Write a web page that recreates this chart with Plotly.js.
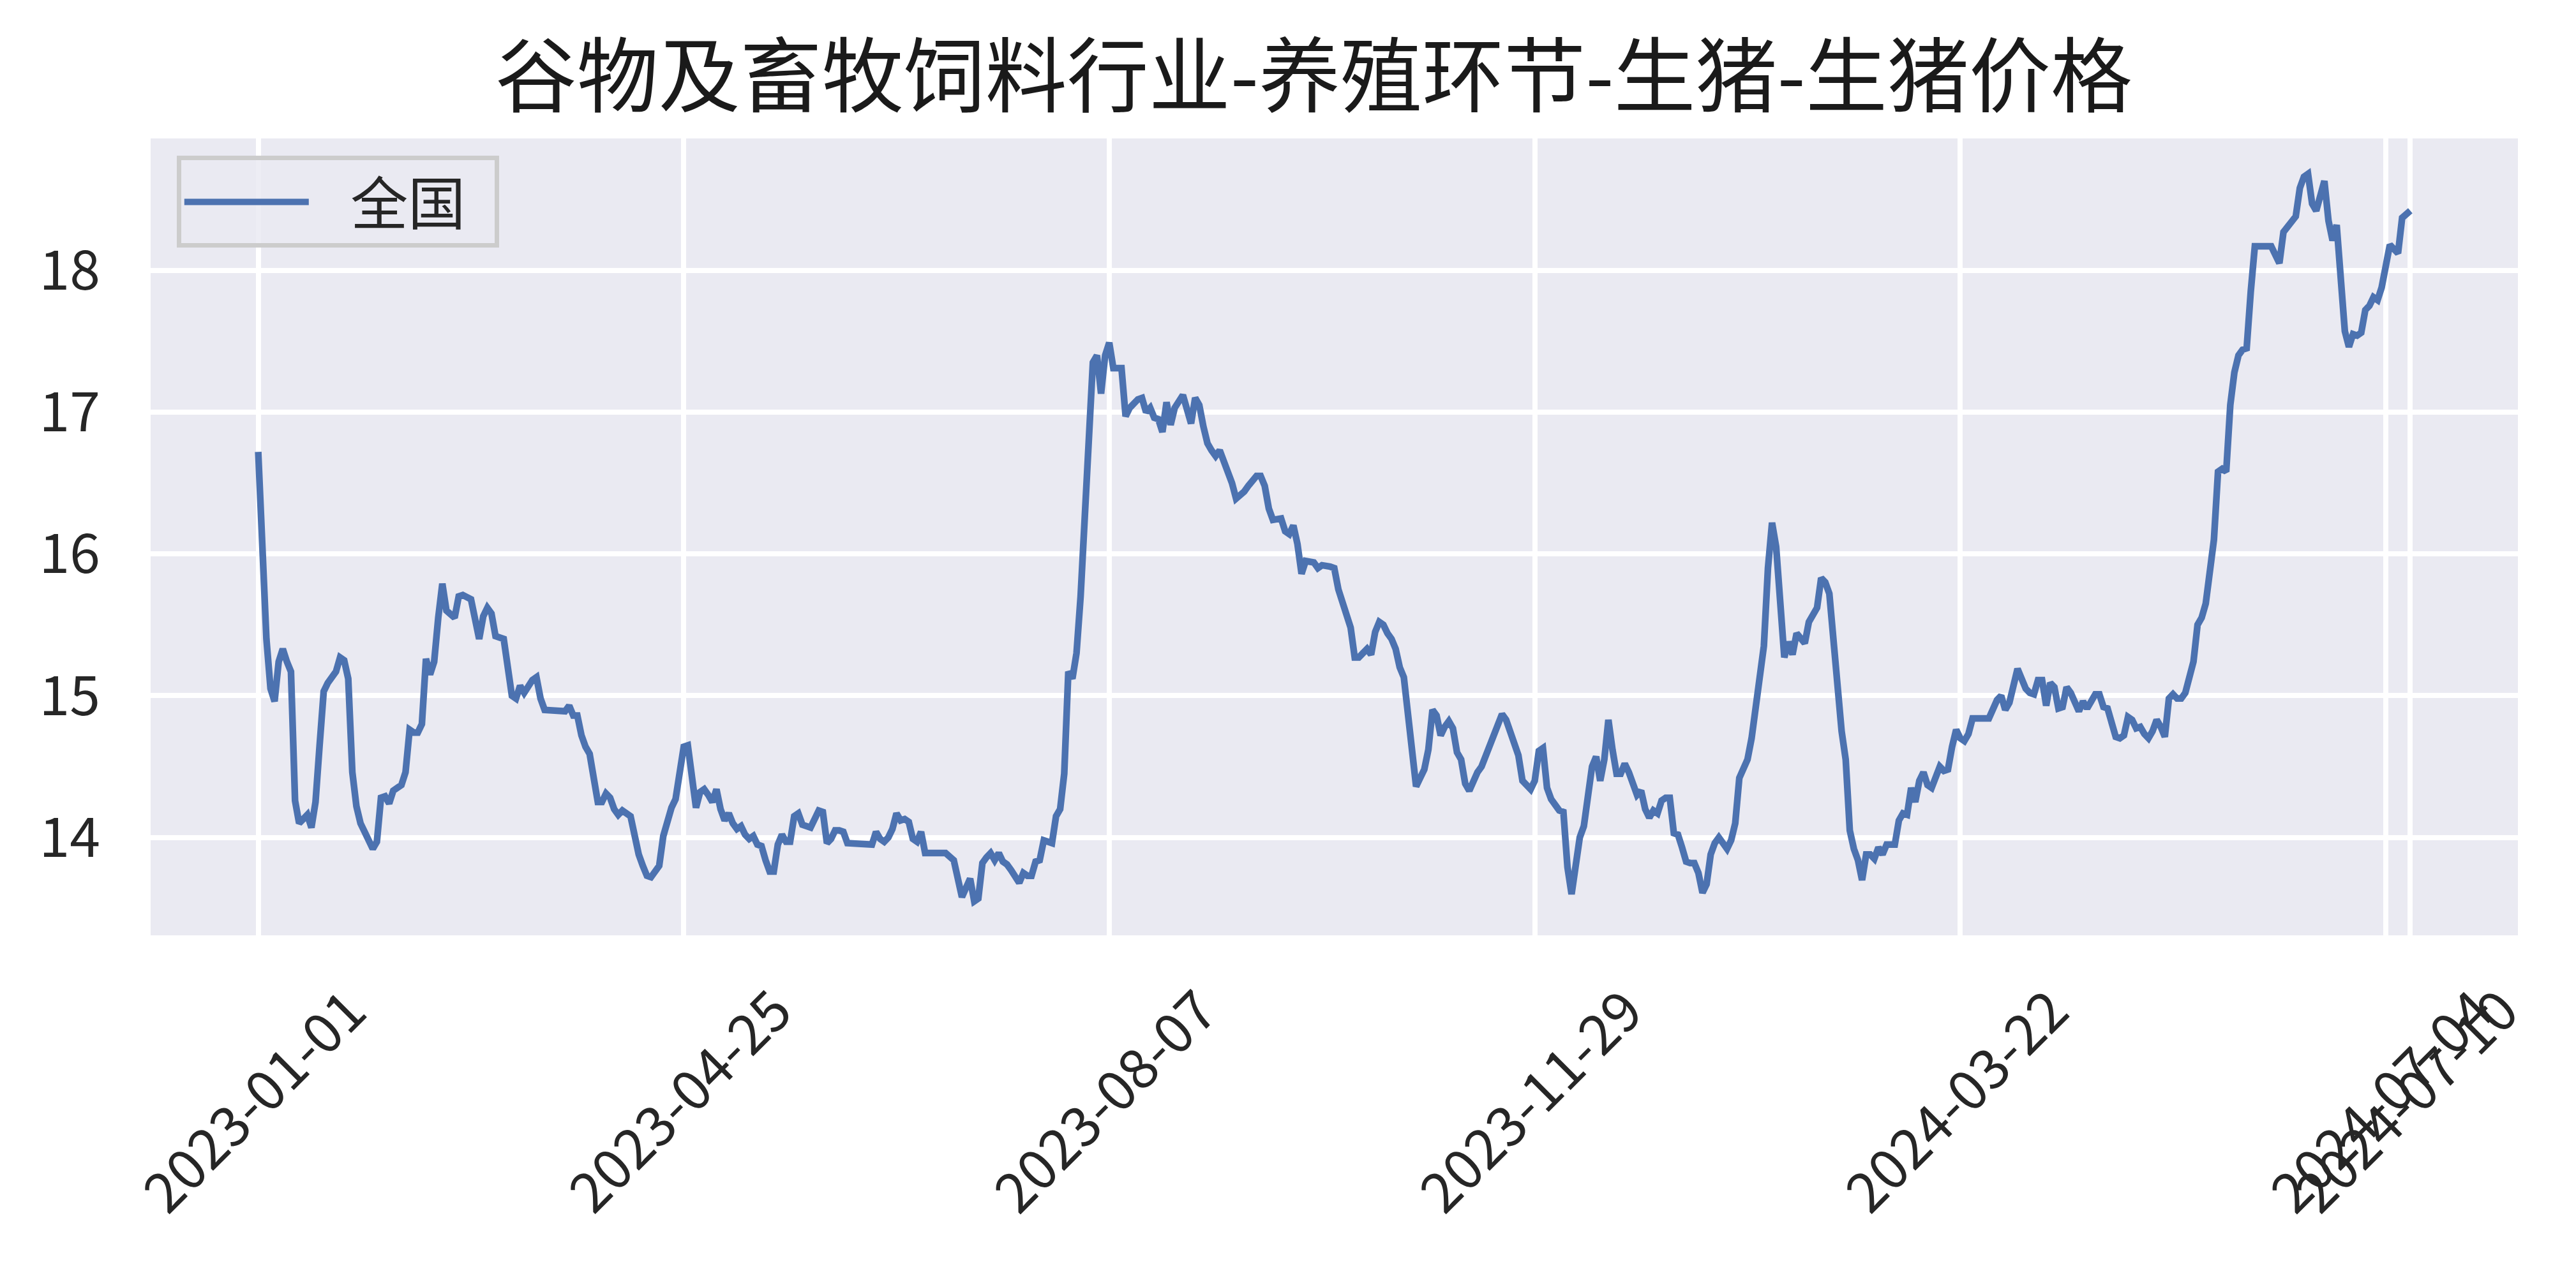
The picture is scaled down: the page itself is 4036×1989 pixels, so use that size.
<!DOCTYPE html>
<html>
<head>
<meta charset="utf-8">
<script src="https://cdn.plot.ly/plotly-3.0.1.min.js"></script>
<style>
  html, body { margin: 0; padding: 0; background: #fff; }
  #chart { width: 4036px; height: 1989px; }
</style>
</head>
<body>
<div id="chart"></div>
<script>
// observation number (trading-day sequence) and national hog price
var obsIdx = [
  0, 1, 2, 3, 4, 5, 6, 7, 8, 9, 10, 11, 12, 13, 14, 15, 16, 17, 19, 20,
  21, 22, 23, 24, 25, 26, 27, 28, 29, 30, 31, 32, 33, 35, 36, 37, 38, 39, 40, 41,
  42, 43, 44, 45, 46, 47, 48, 49, 50, 52, 53, 54, 55, 56, 57, 58, 60, 61, 62, 63,
  64, 65, 67, 68, 69, 70, 75, 76, 77, 78, 79, 80, 81, 82, 83, 84, 85, 86, 87, 88,
  89, 91, 92, 93, 94, 95, 96, 97, 98, 99, 100, 101, 102, 103, 104, 105, 106, 107, 108, 109,
  110, 111, 112, 113, 114, 115, 116, 117, 118, 119, 120, 121, 122, 123, 124, 125, 126, 127, 128, 129,
  130, 131, 132, 133, 135, 136, 137, 138, 139, 140, 141, 142, 143, 144, 148, 150, 151, 152, 153, 154,
  155, 156, 157, 158, 159, 160, 161, 162, 163, 168, 170, 171, 172, 174, 175, 176, 177, 178, 179, 180,
  181, 182, 183, 184, 185, 186, 187, 188, 189, 190, 191, 192, 193, 194, 195, 196, 197, 198, 199, 200,
  201, 202, 203, 204, 205, 206, 207, 208, 209, 210, 211, 212, 213, 214, 215, 216, 217, 218, 219, 220,
  221, 222, 223, 224, 225, 226, 227, 228, 229, 230, 231, 232, 233, 234, 235, 236, 237, 238, 239, 240,
  241, 242, 243, 244, 245, 246, 247, 248, 250, 251, 252, 253, 254, 255, 256, 257, 258, 259, 260, 262,
  263, 264, 265, 266, 267, 268, 269, 270, 271, 272, 273, 274, 275, 276, 277, 278, 279, 280, 281, 282,
  283, 284, 285, 286, 287, 288, 289, 290, 291, 292, 293, 294, 295, 296, 297, 298, 299, 300, 301, 302,
  303, 304, 305, 306, 307, 308, 309, 310, 311, 312, 313, 314, 315, 316, 317, 318, 319, 320, 321, 322,
  323, 324, 325, 326, 327, 328, 329, 330, 331, 332, 333, 334, 335, 336, 337, 338, 339, 340, 341, 342,
  343, 344, 345, 346, 347, 348, 349, 350, 351, 352, 353, 354, 355, 356, 357, 358, 359, 360, 361, 362,
  363, 364, 365, 366, 367, 368, 369, 370, 371, 372, 373, 374, 375, 376, 377, 378, 379, 380, 381, 382,
  383, 384, 385, 386, 387, 388, 389, 390, 391, 392, 393, 394, 395, 396, 397, 398, 400, 401, 402, 403,
  404, 405, 406, 407, 408, 409, 410, 411, 412, 413, 414, 415, 416, 417, 418, 419, 423, 424, 425, 426,
  427, 428, 429, 430, 431, 432, 433, 434, 435, 436, 437, 438, 439, 440, 441, 442, 443, 444, 445, 446,
  447, 448, 449, 450, 451, 452, 453, 454, 455, 456, 457, 458, 459, 460, 461, 462, 463, 464, 465, 466,
  467, 468, 469, 470, 471, 472, 473, 474, 475, 476, 477, 478, 479, 480, 481, 482, 483, 484, 485, 486,
  487, 488, 492, 493, 494, 495, 496, 497, 498, 499, 500, 501, 502, 503, 504, 505, 506, 507, 508, 509,
  510, 511, 512, 513, 514, 515, 516, 517, 518, 519, 520, 521, 522, 523, 524, 525, 526
];

var hogPrice = [
  16.72, 15.95, 15.40, 15.05, 14.96, 15.24, 15.33, 15.24, 15.17, 14.26, 14.10, 14.13, 14.16, 14.07, 14.25, 14.65, 15.03, 15.09, 15.17, 15.27,
  15.25, 15.12, 14.46, 14.22, 14.10, 14.04, 13.97, 13.92, 13.97, 14.28, 14.29, 14.24, 14.33, 14.37, 14.46, 14.76, 14.74, 14.74, 14.80, 15.26,
  15.15, 15.24, 15.55, 15.79, 15.60, 15.57, 15.55, 15.70, 15.71, 15.68, 15.54, 15.40, 15.56, 15.62, 15.58, 15.42, 15.40, 15.20, 15.00, 14.98,
  15.07, 15.02, 15.11, 15.13, 14.98, 14.90, 14.89, 14.93, 14.86, 14.86, 14.72, 14.64, 14.59, 14.42, 14.25, 14.25, 14.31, 14.28, 14.20, 14.16,
  14.19, 14.15, 14.00, 13.88, 13.80, 13.73, 13.72, 13.76, 13.80, 14.01, 14.12, 14.21, 14.27, 14.45, 14.64, 14.65, 14.40, 14.21, 14.32, 14.34,
  14.30, 14.25, 14.34, 14.20, 14.12, 14.17, 14.10, 14.06, 14.08, 14.02, 13.99, 14.01, 13.95, 13.94, 13.84, 13.76, 13.76, 13.95, 14.02, 13.97,
  13.97, 14.15, 14.17, 14.09, 14.07, 14.13, 14.19, 14.18, 13.96, 13.99, 14.05, 14.05, 14.04, 13.96, 13.96, 13.95, 14.04, 13.99, 13.97, 14.00,
  14.06, 14.17, 14.12, 14.13, 14.11, 13.99, 13.97, 14.04, 13.89, 13.89, 13.84, 13.71, 13.58, 13.71, 13.55, 13.57, 13.82, 13.86, 13.89, 13.84,
  13.89, 13.83, 13.81, 13.77, 13.72, 13.68, 13.75, 13.73, 13.73, 13.83, 13.84, 13.98, 13.97, 13.96, 14.15, 14.20, 14.45, 15.17, 15.12, 15.30,
  15.70, 16.30, 16.90, 17.35, 17.40, 17.13, 17.40, 17.49, 17.31, 17.31, 17.31, 16.97, 17.03, 17.06, 17.09, 17.10, 17.00, 17.03, 16.96, 16.95,
  16.86, 17.07, 16.91, 17.03, 17.08, 17.12, 17.02, 16.92, 17.10, 17.05, 16.90, 16.78, 16.73, 16.69, 16.73, 16.66, 16.59, 16.50, 16.39, 16.41,
  16.44, 16.48, 16.51, 16.55, 16.55, 16.48, 16.32, 16.24, 16.25, 16.16, 16.14, 16.20, 16.07, 15.86, 15.95, 15.95, 15.94, 15.90, 15.92, 15.91,
  15.90, 15.75, 15.65, 15.58, 15.48, 15.27, 15.27, 15.30, 15.33, 15.29, 15.45, 15.52, 15.50, 15.44, 15.40, 15.33, 15.20, 15.13, 14.85, 14.55,
  14.36, 14.42, 14.48, 14.62, 14.90, 14.86, 14.72, 14.78, 14.82, 14.77, 14.60, 14.55, 14.38, 14.33, 14.40, 14.46, 14.50, 14.57, 14.64, 14.70,
  14.78, 14.87, 14.83, 14.75, 14.69, 14.58, 14.40, 14.36, 14.34, 14.40, 14.61, 14.63, 14.35, 14.27, 14.22, 14.19, 14.18, 13.79, 13.60, 13.78,
  14.00, 14.08, 14.30, 14.50, 14.57, 14.40, 14.55, 14.83, 14.62, 14.45, 14.45, 14.52, 14.46, 14.38, 14.30, 14.33, 14.20, 14.14, 14.19, 14.17,
  14.26, 14.28, 14.28, 14.03, 14.02, 13.93, 13.83, 13.82, 13.82, 13.75, 13.61, 13.67, 13.88, 13.96, 14.00, 13.96, 13.92, 13.98, 14.10, 14.42,
  14.50, 14.55, 14.70, 14.92, 15.05, 15.35, 15.90, 16.22, 16.05, 15.70, 15.27, 15.38, 15.29, 15.44, 15.40, 15.37, 15.52, 15.56, 15.62, 15.83,
  15.80, 15.72, 15.40, 15.00, 14.75, 14.55, 14.05, 13.92, 13.84, 13.70, 13.88, 13.88, 13.85, 13.93, 13.88, 13.95, 13.95, 14.12, 14.17, 14.16,
  14.35, 14.25, 14.40, 14.46, 14.37, 14.35, 14.42, 14.50, 14.47, 14.48, 14.64, 14.76, 14.70, 14.68, 14.73, 14.84, 14.84, 14.90, 14.97, 15.00,
  14.90, 14.95, 15.08, 15.19, 15.12, 15.05, 15.02, 15.01, 15.11, 15.11, 14.93, 15.09, 15.06, 14.91, 14.92, 15.06, 15.02, 14.95, 14.89, 14.96,
  14.91, 14.96, 15.01, 15.01, 14.92, 14.91, 14.80, 14.71, 14.70, 14.72, 14.85, 14.83, 14.77, 14.78, 14.73, 14.70, 14.75, 14.83, 14.78, 14.71,
  14.98, 15.01, 14.98, 14.98, 15.02, 15.15, 15.24, 15.50, 15.55, 15.65, 15.85, 16.10, 16.58, 16.60, 16.58, 17.05, 17.28, 17.40, 17.44, 17.45,
  17.85, 18.17, 18.17, 18.10, 18.05, 18.27, 18.31, 18.34, 18.38, 18.58, 18.66, 18.68, 18.47, 18.42, 18.55, 18.63, 18.35, 18.21, 18.32, 18.00,
  17.57, 17.46, 17.55, 17.54, 17.56, 17.72, 17.75, 17.81, 17.79, 17.88, 18.02, 18.18, 18.15, 18.12, 18.37, 18.40, 18.42
];

var tickIdx = [0, 104, 208, 312, 416, 520, 526];
var tickText = ['2023-01-01', '2023-04-25', '2023-08-07', '2023-11-29', '2024-03-22', '2024-07-04', '2024-07-10'];
var yTicks = [14, 15, 16, 17, 18];

var FONT = '"Noto Sans CJK SC", "Noto Sans", sans-serif';

var trace = {
  x: obsIdx,
  y: hogPrice,
  type: 'scatter',
  mode: 'lines',
  name: '\u00a0\u00a0\u00a0全国\u00a0\u00a0',
  line: { color: '#4C72B0', width: 10.5 }
};

// x tick labels: rotated 45 degrees and centred on the tick, like matplotlib
var tickNotes = tickIdx.map(function (v, k) {
  return {
    x: v, y: 0, xref: 'x', yref: 'paper',
    text: tickText[k], showarrow: false,
    textangle: -45, xanchor: 'center', yanchor: 'top',
    xshift: -10, yshift: -50,
    font: { family: FONT, size: 87, color: '#262626' }
  };
});

var layout = {
  width: 4036,
  height: 1989,
  paper_bgcolor: '#ffffff',
  plot_bgcolor: '#EAEAF2',
  margin: { l: 236, r: 91, t: 217, b: 523 },
  font: { family: FONT, color: '#262626' },
  title: {
    text: '谷物及畜牧饲料行业-养殖环节-生猪-生猪价格',
    font: { family: FONT, size: 128, color: '#1a1a1a' },
    xref: 'container', x: 0.51, xanchor: 'center',
    yref: 'container', y: 0.939, yanchor: 'middle'
  },
  xaxis: {
    range: [-26.3, 552.3],
    tickmode: 'array',
    tickvals: tickIdx,
    showticklabels: false,
    showgrid: true,
    gridcolor: '#ffffff',
    gridwidth: 8,
    zeroline: false,
    showline: false,
    ticks: ''
  },
  yaxis: {
    range: [13.31, 18.93],
    tickmode: 'array',
    tickvals: yTicks,
    ticktext: yTicks.map(String),
    tickfont: { family: FONT, size: 86, color: '#262626' },
    ticklabelstandoff: 78,
    showgrid: true,
    gridcolor: '#ffffff',
    gridwidth: 8,
    zeroline: false,
    showline: false,
    ticks: ''
  },
  showlegend: true,
  legend: {
    x: 0.011, y: 0.978, xanchor: 'left', yanchor: 'top',
    bgcolor: 'rgba(234,234,242,0.85)',
    bordercolor: '#cccccc',
    borderwidth: 7,
    itemwidth: 195,
    font: { family: FONT, size: 90, color: '#262626' }
  },
  annotations: tickNotes
};

Plotly.newPlot('chart', [trace], layout, { staticPlot: true });
</script>
</body>
</html>
